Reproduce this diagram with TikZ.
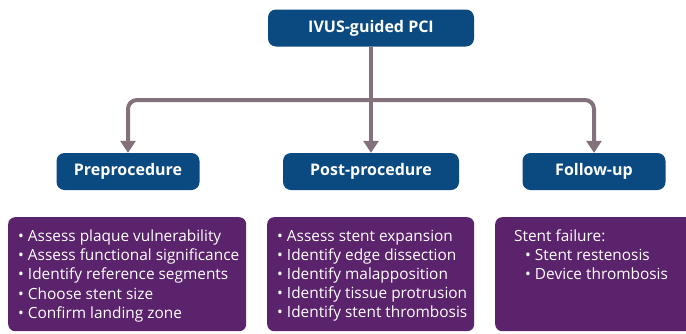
\documentclass[tikz,border=0pt]{standalone}
\usepackage{fontspec}
\setmainfont{Open Sans}
\usetikzlibrary{arrows.meta}
\usetikzlibrary{positioning}
\definecolor{headblue}{HTML}{0B4A80}
\definecolor{listpurple}{HTML}{5B236B}
\definecolor{flowgray}{HTML}{83717B}
\tikzset{
    head/.style={
           rectangle,
           rounded corners=8pt,
           fill=headblue,
           text=white,
           minimum height=37pt,
           inner sep=2pt,
           font=\bfseries\fontsize{16}{19}\selectfont,
           text centered,
           },
    listbox/.style={
           rectangle,
           rounded corners=7pt,
           fill=listpurple,
           anchor=north west,
           },
    listtext/.style={
           text=white,
           inner sep=0pt,
           align=left,
           anchor=north west,
           font=\fontsize{15.4}{19.2}\selectfont,
           },
    link/.style={
           draw=flowgray,
           line width=4pt,
           },
    flow/.style={
           link,
           rounded corners=9pt,
           -{Triangle[length=12pt,width=15pt]},
           },
}

\begin{document}
\begin{tikzpicture}[x=1pt,y=-1pt]
 \useasboundingbox (0,0) rectangle (686,333);

 % Top node
 \node[head,minimum width=206pt] (PCI) at (371,28)
 {IVUS-guided PCI};

 % the three stages below it
 \node[head,minimum width=143pt] (Pre) at (128,171.5)
 {Preprocedure};
 \node[head,minimum width=176pt] (Post) at (371,171.5)
 {Post-procedure};
 \node[head,minimum width=143pt] (Follow) at (594,171.5)
 {Follow-up};

 % purple boxes with the checks for every stage
 \node[listbox,minimum width=238pt,minimum height=114pt] (PreBox) at (8,217) {};
 \node[listbox,minimum width=207pt,minimum height=114pt] (PostBox) at (267,217) {};
 \node[listbox,minimum width=205pt,minimum height=114pt] (FollowBox) at (495,217) {};

 \node[listtext,below right=12.5pt and 10pt of PreBox.north west] (PreList)
 {%
  • Assess plaque vulnerability\\
  • Assess functional significance\\
  • Identify reference segments\\
  • Choose stent size\\
  • Confirm landing zone
 };

 \node[listtext,below right=12.5pt and 10pt of PostBox.north west] (PostList)
 {%
  • Assess stent expansion\\
  • Identify edge dissection\\
  • Identify malapposition\\
  • Identify tissue protrusion\\
  • Identify stent thrombosis
 };

 \node[listtext,below right=12.5pt and 19pt of FollowBox.north west] (FollowList)
 {%
  Stent failure:\\
  \hspace*{11pt}• Stent restenosis\\
  \hspace*{11pt}• Device thrombosis
 };

 % branch point of the arrows
 \coordinate (split) at (371,100);

 \draw[link] (PCI.south) -- (split);
 \draw[flow] (split) -- (Post.north);
 \draw[flow] (split) -| (Pre.north);
 \draw[flow] (split) -| (Follow.north);
\end{tikzpicture}
\end{document}
